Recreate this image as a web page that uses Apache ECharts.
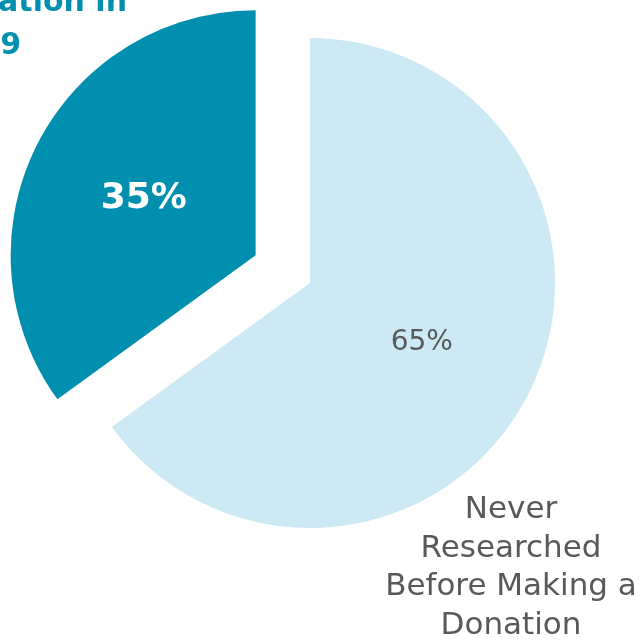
<!DOCTYPE html>
<html>
<head>
<meta charset="utf-8">
<script src="https://cdn.jsdelivr.net/npm/echarts@6/dist/echarts.min.js"></script>
<style>
  html, body { margin: 0; padding: 0; background: #ffffff; }
  #chart { width: 643px; height: 640px; }
</style>
</head>
<body>
<div id="chart"></div>
<script>
// Share of donors by research habit
const categories = ['Never Researched Before Making a Donation', 'Researched Before Making a Donation in 2009'];
const shares = [65, 35];
const sliceColors = ['#cce9f4', '#008fae'];

const chart = echarts.init(document.getElementById('chart'), null, { renderer: 'canvas' });

const FONT = '"DejaVu Sans", sans-serif';

const data = categories.map((name, i) => ({
  name: name,
  value: shares[i],
  selected: i === 1,
  itemStyle: { color: sliceColors[i] },
  label: i === 1
    ? { color: '#ffffff', fontSize: 36, fontWeight: 'bold', fontFamily: FONT, offset: [4, -4] }
    : { color: '#595959', fontSize: 28, fontFamily: FONT, offset: [0, 3] }
}));

chart.setOption({
  backgroundColor: '#ffffff',
  animation: false,
  series: [{
    type: 'pie',
    center: [310, 283],
    radius: [0, 245],
    startAngle: 90,
    clockwise: true,
    selectedMode: 'single',
    selectedOffset: 61,
    silent: true,
    label: {
      show: true,
      position: 'inside',
      formatter: '{c}%'
    },
    labelLine: { show: false },
    emphasis: { disabled: true },
    data: data
  }],
  graphic: [
    {
      type: 'text',
      style: {
        text: 'Making a Donation in',
        x: 127, y: 3,
        textAlign: 'right', textVerticalAlign: 'middle',
        font: 'bold 30px ' + FONT,
        fill: '#008fae'
      }
    },
    {
      type: 'text',
      style: {
        text: '2009',
        x: 21, y: 46,
        textAlign: 'right', textVerticalAlign: 'middle',
        font: 'bold 30px ' + FONT,
        fill: '#008fae'
      }
    },
    {
      type: 'text',
      style: {
        text: 'Never\nResearched\nBefore Making a\nDonation',
        x: 511, y: 491,
        textAlign: 'center', textVerticalAlign: 'top',
        font: '31px ' + FONT,
        lineHeight: 38.5,
        fill: '#595959'
      }
    }
  ]
});
</script>
</body>
</html>
